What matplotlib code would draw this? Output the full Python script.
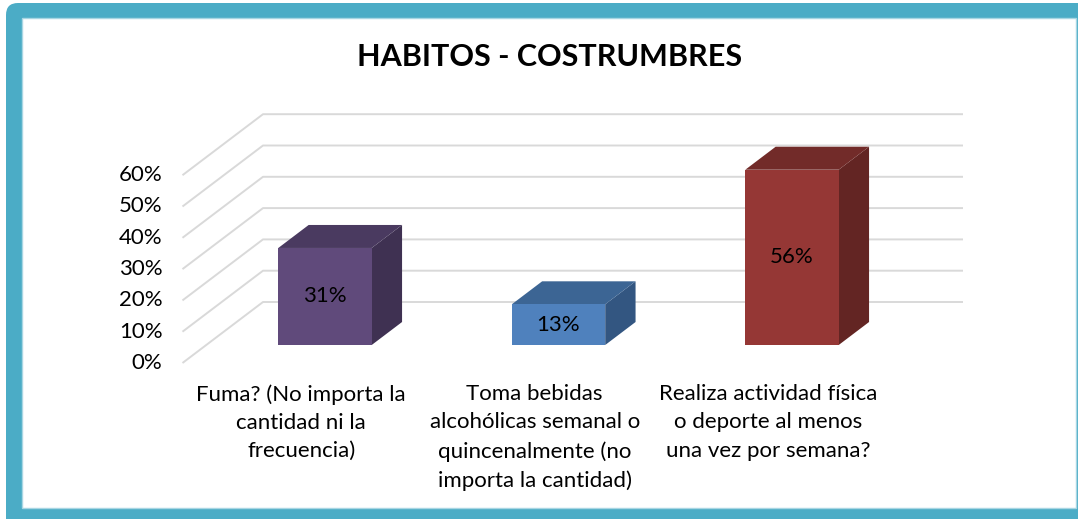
import matplotlib
matplotlib.use("Agg")
import matplotlib.pyplot as plt
from matplotlib.patches import Polygon, Rectangle, FancyBboxPatch

# ---------------- data ----------------
title = "HABITOS - COSTRUMBRES"
categories = [
    "Fuma? (No importa la\ncantidad ni la\nfrecuencia)",
    "Toma bebidas\nalcohólicas semanal o\nquincenalmente (no\nimporta la cantidad)",
    "Realiza actividad física\no deporte al menos\nuna vez por semana?",
]
values = [0.31, 0.13, 0.56]
value_labels = ["31%", "13%", "56%"]
ticks = [0.0, 0.1, 0.2, 0.3, 0.4, 0.5, 0.6]
tick_labels = ["0%", "10%", "20%", "30%", "40%", "50%", "60%"]

front_colors = ["#604A7B", "#4F81BD", "#953735"]
top_colors = ["#4A3A60", "#3C6594", "#722B29"]
side_colors = ["#3F3152", "#335681", "#632523"]

# ---------------- geometry ----------------
W, H = 1078, 519
DPI = 100
X0_PX = 325.0      # pixel x of first category centre (front plane)
PX_PER_CAT = 233.5
Y0_PX = 345.0      # pixel y of value 0 at the bar front plane
PX_PER_UNIT = 313.0
R = 1.32           # x shift per unit of depth
BAR_W = 0.40
BAR_DEPTH = 23
WALL_Z = 43
FRONT_Z = -18

FONT = "Lato"
FS = 16

fig = plt.figure(figsize=(W / DPI, H / DPI), dpi=DPI)
fig.patch.set_facecolor("white")

# background frame axes (pixel coords)
bg = fig.add_axes([0, 0, 1, 1])
bg.set_xlim(0, W)
bg.set_ylim(H, 0)
bg.axis("off")
teal = "#4BACC6"
bg.add_patch(FancyBboxPatch((6, 3), W + 20, H + 10,
                            boxstyle="round,pad=0,rounding_size=12",
                            facecolor=teal, edgecolor="none"))
bg.add_patch(Rectangle((22, 18), 1076 - 22, 508 - 18,
                       facecolor="white", edgecolor="#A8D6E3", linewidth=1.0))

# chart axes in data units
ax = fig.add_axes([0, 0, 1, 1])
ax.patch.set_alpha(0)
ax.set_xlim(-X0_PX / PX_PER_CAT, (W - X0_PX) / PX_PER_CAT)
ax.set_ylim((Y0_PX - H) / PX_PER_UNIT, Y0_PX / PX_PER_UNIT)
ax.axis("off")


def proj(x, v, z):
    return (x + z * R / PX_PER_CAT, v + z / PX_PER_UNIT)


# gridlines (left side wall + back wall)
xl = (263 - WALL_Z * R - X0_PX) / PX_PER_CAT
xr = (963 - WALL_Z * R - X0_PX) / PX_PER_CAT
for t in ticks:
    p1 = proj(xl, t, FRONT_Z)
    p2 = proj(xl, t, WALL_Z)
    p3 = proj(xr, t, WALL_Z)
    ax.plot([p1[0], p2[0], p3[0]], [p1[1], p2[1], p3[1]],
            color="#D9D9D9", linewidth=1.4, zorder=1, solid_capstyle="butt")

# tick labels
for t, lab in zip(ticks, tick_labels):
    x, y = proj(xl, t, FRONT_Z)
    ax.text(x - 20 / PX_PER_CAT, y, lab, ha="right", va="center",
            fontsize=FS, family=FONT, color="black")

# bars
for i, v in enumerate(values):
    x0, x1 = i - BAR_W / 2, i + BAR_W / 2
    top = [proj(x0, v, 0), proj(x1, v, 0), proj(x1, v, BAR_DEPTH), proj(x0, v, BAR_DEPTH)]
    side = [proj(x1, 0, 0), proj(x1, v, 0), proj(x1, v, BAR_DEPTH), proj(x1, 0, BAR_DEPTH)]
    ax.add_patch(Polygon(side, closed=True, facecolor=side_colors[i], edgecolor="none", zorder=3))
    ax.add_patch(Polygon(top, closed=True, facecolor=top_colors[i], edgecolor="none", zorder=3))
    ax.add_patch(Rectangle((x0, 0), BAR_W, v, facecolor=front_colors[i], edgecolor="none", zorder=4))
    ax.text(i, v / 2, value_labels[i], ha="center", va="center",
            fontsize=FS, family=FONT, color="black", zorder=5)

# category labels
for i, lab in enumerate(categories):
    x, _ = proj(i, 0, FRONT_Z)
    y = (Y0_PX - 384) / PX_PER_UNIT
    ax.text(x, y, lab, ha="center", va="top", fontsize=FS, family=FONT,
            linespacing=1.52, color="black")

# title
fig.text(550 / W, 1 - 57 / H, title, ha="center", va="center",
         fontsize=22, fontweight="bold", family=FONT, color="black")

fig.savefig("out.png", dpi=DPI)
